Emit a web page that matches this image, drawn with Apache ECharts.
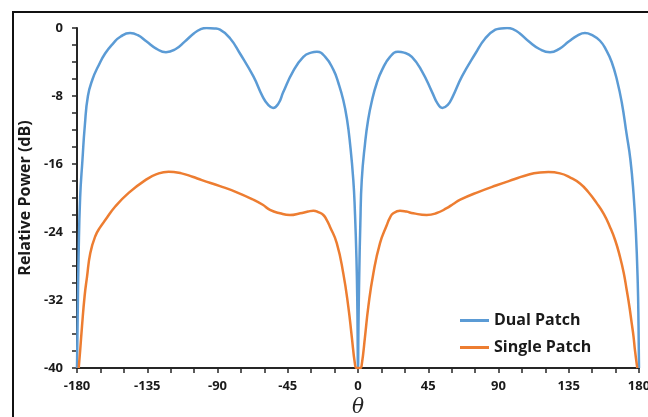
<!DOCTYPE html>
<html>
<head>
<meta charset="utf-8">
<script src="https://cdn.jsdelivr.net/npm/echarts@6/dist/echarts.min.js"></script>
<style>
  html, body { margin: 0; padding: 0; background: #fff; }
  #chart { width: 648px; height: 417px; }
</style>
</head>
<body>
<div id="chart"></div>
<script>
// Dual Patch (blue) - angle in degrees, relative power in dB
let dualAngles = [
    -180, -179.5, -179, -178, -176.5, -175, -173, -170, -166.4, -162, -156.8, -152, -146, -141, -135.4,
    -129, -123, -117, -111, -105, -101, -97, -92, -88.4, -82, -75.6, -67, -61, -57.5, -54.4, -51, -48,
    -41.6, -35, -30, -26.3, -21, -15.8, -12.5, -9.4, -7, -5.1, -3, -2, -1, -0.4, 0,
    0.3, 0.8, 1.5, 2.4, 4.5, 6.5, 9, 12, 15.5, 20.5, 25.6, 29.5, 34.5, 41, 47.6, 51, 54, 57.5, 60.6,
    66.6, 75.2, 81.6, 88, 91.6, 95.5, 99.5, 103.5, 109.5, 116.5, 123, 129, 135, 140.5, 145.4,
    150, 155, 159, 162.5, 166, 169, 172, 174.5, 176.5, 178, 179.2, 179.7, 180
];
let dualValues = [
    -40, -33, -27, -20, -15.5, -11.5, -8, -6, -4.5, -3, -1.8, -1, -0.6, -0.85, -1.6,
    -2.45, -2.85, -2.5, -1.6, -0.62, -0.16, 0, -0.05, -0.2, -1.2, -3, -5.7, -8.1, -9.05, -9.4, -8.9, -7.6,
    -5.1, -3.4, -2.9, -2.8, -3.4, -4.9, -6.5, -8.5, -10.8, -13.6, -17.9, -21.5, -27, -33, -40,
    -35, -29, -23, -17.9, -13.6, -10.8, -8.5, -6.5, -4.9, -3.4, -2.8, -2.9, -3.4, -5.1, -7.6, -8.9, -9.4, -9.05, -8.1,
    -5.7, -3, -1.2, -0.2, -0.05, 0, -0.16, -0.62, -1.6, -2.5, -2.85, -2.45, -1.6, -0.9, -0.6,
    -0.85, -1.5, -2.6, -4, -6.2, -8.8, -12.4, -15.5, -19.5, -24, -30, -35, -40
];

// Single Patch (orange)
let singleAngles = [
    -178.9, -178, -176.8, -175.1, -173.6, -171.5, -168.3, -165, -161.9, -155.5, -146.9, -136.2, -129, -121.3,
    -113, -106, -100, -88.4, -78, -67, -61, -56.4, -50, -43.6, -37, -32, -28.6, -25, -22.2, -20, -17.9,
    -13.6, -9.4, -6.2, -4, -1.9, -0.9,
    1.5, 2.4, 4.5, 6.6, 9.8, 14.1, 18.4, 20.5, 22.6, 26.9, 31, 35.4, 44, 50, 56.8, 61, 65.5, 77, 88.8,
    100, 110, 116.6, 122, 129.4, 136, 142.2, 147.5, 152.9, 157.5, 161.4, 164.8, 167.8, 170.2, 172.1,
    173.8, 175.3, 176.5, 177.4, 178.9
];
let singleValues = [
    -40, -38, -35.1, -31.5, -29.3, -26.5, -24.5, -23.4, -22.6, -21, -19.4, -17.9, -17.2, -16.9,
    -17.1, -17.5, -17.9, -18.6, -19.3, -20.2, -20.8, -21.4, -21.8, -22, -21.8, -21.6, -21.5, -21.7, -22, -22.6, -23.4,
    -25.3, -28.9, -32.8, -36.3, -39.6, -40,
    -40, -39.6, -36.3, -32.8, -28.9, -25.3, -23.2, -22.3, -21.8, -21.5, -21.6, -21.8, -22, -21.8, -21.2, -20.7, -20.2, -19.3, -18.5,
    -17.8, -17.2, -17, -16.95, -17.1, -17.6, -18.3, -19.3, -20.6, -21.9, -23.4, -25, -26.9, -28.8, -30.8,
    -32.7, -34.7, -36.3, -37.9, -40
];

let xTicks = { min: -180, max: 180, step: 45 };
let yTicks = { min: -40, max: 0, step: 8 };

const pair = (xs, ys) => xs.map((x, i) => [x, ys[i]]);

var chartDom = document.getElementById('chart');
var chart = echarts.init(chartDom);

var axisColor = '#262626';
var labelFont = {
    fontFamily: 'Open Sans, sans-serif',
    fontSize: 13,
    fontWeight: 'bold',
    color: '#1a1a1a'
};

var option = {
    animation: false,
    backgroundColor: '#fff',
    graphic: [
        {
            type: 'rect',
            shape: { x: 13, y: 12, width: 700, height: 500 },
            style: { fill: 'none', stroke: '#111', lineWidth: 2 },
            silent: true
        }
    ],
    grid: {
        left: 77,
        right: 9,
        top: 28,
        bottom: 49,
        outerBoundsMode: 'none',
        containLabel: false
    },
    legend: {
        data: ['Dual Patch', 'Single Patch'],
        orient: 'vertical',
        left: 455,
        top: 302,
        icon: 'rect',
        itemWidth: 29,
        itemHeight: 3,
        itemGap: 0,
        textStyle: {
            fontFamily: 'Open Sans, sans-serif',
            fontSize: 16,
            fontWeight: 'bold',
            color: '#1a1a1a',
            lineHeight: 27
        }
    },
    xAxis: {
        type: 'value',
        min: xTicks.min,
        max: xTicks.max,
        interval: xTicks.step,
        name: 'θ',
        nameLocation: 'middle',
        nameGap: 30,
        nameTextStyle: {
            fontFamily: 'DejaVu Serif, Liberation Serif, serif',
            fontStyle: 'italic',
            fontSize: 20,
            color: '#222'
        },
        axisLine: { show: true, onZero: false, lineStyle: { color: axisColor, width: 2 } },
        axisTick: { show: true, inside: false, length: 5, lineStyle: { color: axisColor, width: 1.5 } },
        minorTick: { show: true, splitNumber: 3, length: 5, lineStyle: { color: axisColor, width: 1.5 } },
        splitLine: { show: false },
        axisLabel: Object.assign({ margin: 12 }, labelFont)
    },
    yAxis: {
        type: 'value',
        min: yTicks.min,
        max: yTicks.max,
        interval: yTicks.step,
        name: 'Relative Power (dB)',
        nameLocation: 'middle',
        nameGap: 38,
        nameTextStyle: {
            fontFamily: 'Open Sans, sans-serif',
            fontSize: 16,
            fontWeight: 'bold',
            color: '#1a1a1a'
        },
        axisLine: { show: true, onZero: false, lineStyle: { color: axisColor, width: 2 } },
        axisTick: { show: true, inside: false, length: 5, lineStyle: { color: axisColor, width: 1.5 } },
        minorTick: { show: true, splitNumber: 4, length: 5, lineStyle: { color: axisColor, width: 1.5 } },
        splitLine: { show: false },
        axisLabel: Object.assign({ margin: 14 }, labelFont)
    },
    series: [
        {
            name: 'Dual Patch',
            type: 'line',
            data: pair(dualAngles, dualValues),
            color: '#5B9BD5',
            symbol: 'none',
            smooth: 0.5,
            lineStyle: { width: 2.5 }
        },
        {
            name: 'Single Patch',
            type: 'line',
            data: pair(singleAngles, singleValues),
            color: '#ED7D31',
            symbol: 'none',
            smooth: 0.5,
            lineStyle: { width: 2.5 }
        }
    ]
};

chart.setOption(option);
</script>
</body>
</html>
